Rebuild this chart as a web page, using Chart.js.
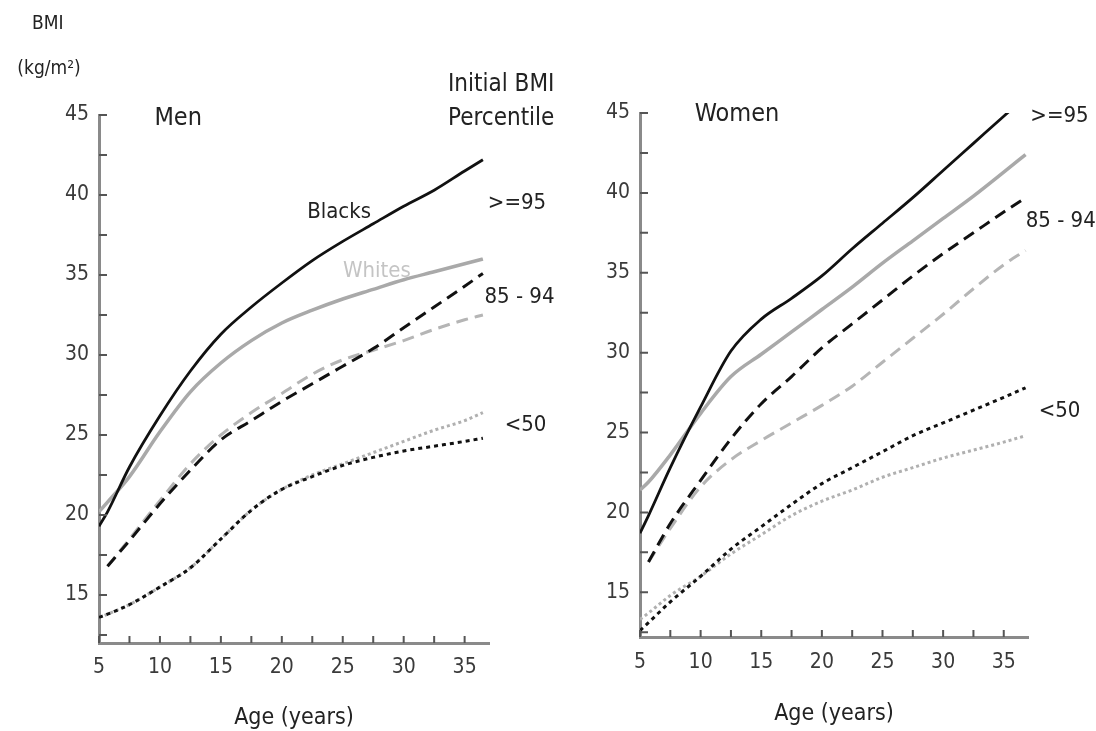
<!DOCTYPE html>
<html lang="en">
<head>
<meta charset="UTF-8">
<title>BMI by age, initial BMI percentile</title>
<style>
  body { margin: 0; background: #fff; }
  .panel { position: absolute; top: 0; height: 731px; }
</style>
</head>
<body>
<div class="panel" style="left:0; width:600px"><canvas id="menChart"></canvas></div>
<div class="panel" style="left:548px; width:548px"><canvas id="womenChart"></canvas></div>

<script src="https://cdn.jsdelivr.net/npm/chart.js"></script>
<script>
// ages (years) shared by every curve of a panel
const menAges   = [5, 5.7, 7.5, 10, 12.5, 15, 17.5, 20, 22.5, 25, 27.5, 30, 32.5, 35, 36.5];
const womenAges = [5, 5.7, 7.5, 10, 12.5, 15, 17.5, 20, 22.5, 25, 27.5, 30, 32.5, 35, 36.8];

// men, BMI (kg/m2)
const menBlacks95  = [19.3, 20.2, 23.0, 26.2, 29.0, 31.3, 33.0, 34.5, 35.9, 37.1, 38.2, 39.3, 40.3, 41.5, 42.2];
const menWhites95  = [20.2, 20.8, 22.4, 25.2, 27.7, 29.5, 30.9, 32.0, 32.8, 33.5, 34.1, 34.7, 35.2, 35.7, 36.0];
const menBlacks85  = [null, 16.8, 18.4, 20.7, 22.8, 24.7, 25.9, 27.1, 28.2, 29.3, 30.4, 31.7, 33.0, 34.3, 35.1];
const menWhites85  = [null, 16.8, 18.5, 20.9, 23.2, 25.0, 26.4, 27.6, 28.8, 29.7, 30.3, 30.9, 31.6, 32.2, 32.5];
const menBlacks50  = [13.6, 13.8, 14.4, 15.5, 16.7, 18.5, 20.3, 21.6, 22.4, 23.1, 23.6, 24.0, 24.3, 24.6, 24.8];
const menWhites50  = [13.6, 13.8, 14.4, 15.5, 16.7, 18.5, 20.3, 21.6, 22.5, 23.2, 23.9, 24.6, 25.3, 25.9, 26.4];

// women, BMI (kg/m2)
const womenBlacks95 = [18.7, 19.8, 22.8, 26.6, 30.1, 32.1, 33.4, 34.8, 36.5, 38.1, 39.7, 41.4, 43.1, 44.8, 46.0];
const womenWhites95 = [21.4, 21.9, 23.6, 26.2, 28.5, 29.9, 31.3, 32.7, 34.1, 35.6, 37.0, 38.4, 39.8, 41.3, 42.4];
const womenBlacks85 = [null, 16.9, 19.3, 22.0, 24.6, 26.8, 28.5, 30.3, 31.8, 33.3, 34.8, 36.2, 37.5, 38.8, 39.7];
const womenWhites85 = [null, 16.9, 19.0, 21.6, 23.3, 24.5, 25.6, 26.7, 27.9, 29.4, 30.9, 32.4, 34.0, 35.5, 36.4];
const womenBlacks50 = [12.6, 13.1, 14.4, 16.0, 17.7, 19.1, 20.5, 21.8, 22.8, 23.8, 24.8, 25.6, 26.4, 27.2, 27.8];
const womenWhites50 = [13.3, 13.7, 14.8, 16.0, 17.4, 18.6, 19.8, 20.7, 21.4, 22.2, 22.8, 23.4, 23.9, 24.4, 24.8];

// tick positions (labels only on multiples of 5)
const xTicks = [5, 7.5, 10, 12.5, 15, 17.5, 20, 22.5, 25, 27.5, 30, 32.5, 35];
const yTicks = [12.5, 15, 17.5, 20, 22.5, 25, 27.5, 30, 32.5, 35, 37.5, 40, 42.5, 45];

const FONT = "'Liberation Sans Narrow', 'DejaVu Sans Condensed', 'Liberation Sans', Arial, sans-serif";

// line looks: black = Blacks, grey = Whites; solid >=95, long dash 85-94, dots <50
const looks = {
  b95: { borderColor: '#111', borderWidth: 2.8, borderDash: [] },
  w95: { borderColor: '#a9a9a9', borderWidth: 3.5, borderDash: [] },
  b85: { borderColor: '#111', borderWidth: 3, borderDash: [12, 7] },
  w85: { borderColor: '#b5b5b5', borderWidth: 3, borderDash: [12, 7] },
  b50: { borderColor: '#111', borderWidth: 3, borderDash: [4, 4] },
  w50: { borderColor: '#b0b0b0', borderWidth: 3, borderDash: [3, 3] }
};

// small ticks pointing into the plot, like the original
const innerTicks = {
  id: 'innerTicks',
  afterDraw(chart) {
    const { ctx, chartArea: a, scales: { x, y } } = chart;
    ctx.save();
    ctx.strokeStyle = '#555';
    ctx.lineWidth = 2;
    ctx.beginPath();
    x.ticks.forEach(t => {
      const px = x.getPixelForValue(t.value);
      ctx.moveTo(px, a.bottom);
      ctx.lineTo(px, a.bottom - 7);
    });
    y.ticks.forEach(t => {
      const py = y.getPixelForValue(t.value);
      ctx.moveTo(a.left, py);
      ctx.lineTo(a.left + 8, py);
    });
    ctx.stroke();
    ctx.restore();
  }
};

// text notes placed in data units: [text, age, bmi, size, colour]
const notesPlugin = notes => ({
  id: 'notes',
  afterDraw(chart) {
    const { ctx, scales: { x, y } } = chart;
    ctx.save();
    ctx.textAlign = 'center';
    ctx.textBaseline = 'middle';
    notes.forEach(([text, age, bmi, size, color]) => {
      ctx.font = size + 'px ' + FONT;
      ctx.fillStyle = color || '#222';
      ctx.fillText(text, x.getPixelForValue(age), y.getPixelForValue(bmi));
    });
    ctx.restore();
  }
});

const makeChart = (id, ages, series, yMin, pad, tickPad, notes) => {
  const keys = ['b95', 'w95', 'b85', 'w85', 'b50', 'w50'];
  return new Chart(document.getElementById(id), {
    type: 'line',
    data: {
      labels: ages,
      datasets: series.map((vals, i) => ({
        data: vals.map((v, j) => ({ x: ages[j], y: v })),
        ...looks[keys[i]],
        pointRadius: 0,
        fill: false,
        cubicInterpolationMode: 'monotone',
        spanGaps: false
      }))
    },
    options: {
      responsive: true,
      maintainAspectRatio: false,
      animation: false,
      layout: { padding: pad },
      plugins: { legend: { display: false }, tooltip: { enabled: false } },
      scales: {
        x: {
          type: 'linear',
          min: 5, max: 37,
          afterBuildTicks: s => { s.ticks = xTicks.map(v => ({ value: v })); },
          afterFit: s => { s.height = 40; },
          grid: { display: false, drawTicks: false },
          border: { display: true, color: '#8a8a8a', width: 3 },
          ticks: {
            autoSkip: false, maxRotation: 0, padding: tickPad,
            color: '#3a3a3a', font: { family: FONT, size: 21 },
            callback: v => (v % 5 === 0 ? v : '')
          }
        },
        y: {
          min: yMin, max: 45,
          afterBuildTicks: s => { s.ticks = yTicks.map(v => ({ value: v })); },
          afterFit: s => { s.width = 40; },
          grid: { display: false, drawTicks: false },
          border: { display: true, color: '#8a8a8a', width: 3 },
          ticks: {
            autoSkip: false, padding: 10,
            color: '#3a3a3a', font: { family: FONT, size: 21 },
            callback: v => (v % 5 === 0 ? v : '')
          }
        }
      }
    },
    plugins: [innerTicks, notesPlugin(notes)]
  });
};

makeChart('menChart', menAges,
  [menBlacks95, menWhites95, menBlacks85, menWhites85, menBlacks50, menWhites50],
  12, { left: 59, right: 111, top: 115, bottom: 48 }, 12,
  [
    ['BMI', 0.8, 50.7, 19],
    ['(kg/m\u00B2)', 0.9, 47.9, 19],
    ['Men', 11.5, 44.8, 25],
    ['Blacks', 24.7, 38.9, 22],
    ['Whites', 27.8, 35.25, 22, '#c4c4c4'],
    ['Initial BMI', 38.0, 46.9, 24],
    ['Percentile', 38.0, 44.75, 24],
    ['>=95', 39.3, 39.5, 22],
    ['85 - 94', 39.5, 33.6, 22],
    ['<50', 40.0, 25.6, 22],
    ['Age (years)', 21, 7.3, 23]
  ]);

makeChart('womenChart', womenAges,
  [womenBlacks95, womenWhites95, womenBlacks85, womenWhites85, womenBlacks50, womenWhites50],
  12.2, { left: 52, right: 68, top: 113, bottom: 54 }, 13,
  [
    ['Women', 13.0, 44.9, 25],
    ['>=95', 39.6, 44.8, 22],
    ['85 - 94', 39.7, 38.2, 22],
    ['<50', 39.6, 26.3, 22],
    ['Age (years)', 21, 7.4, 23]
  ]);
</script>
</body>
</html>
